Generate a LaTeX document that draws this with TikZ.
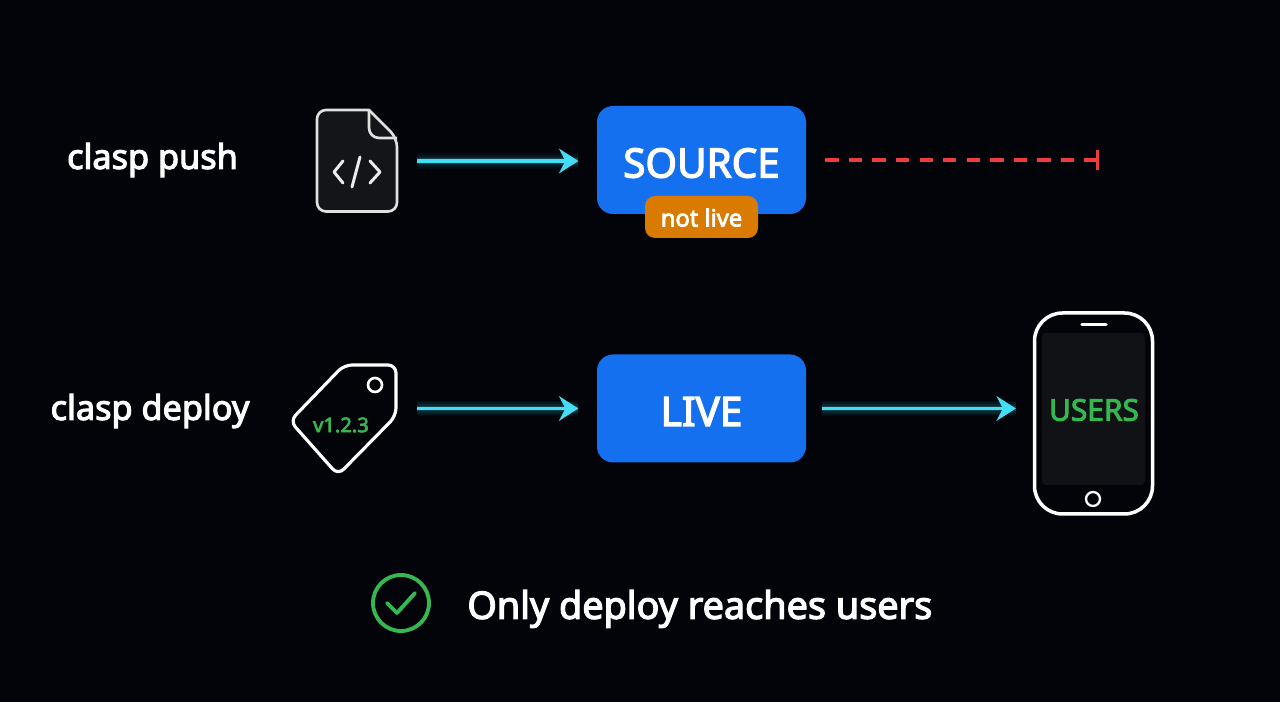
\documentclass[tikz,border=0pt]{standalone}
\usepackage{fontspec}
\setmainfont{Noto Sans}
\newfontfamily\semifont{Noto Sans}[FakeBold=3.2]
\usepackage{tikz,xcolor}
\usetikzlibrary{arrows.meta}

\definecolor{bgnavy}{HTML}{02040A}
\definecolor{boxblue}{HTML}{1570F0}
\definecolor{tagorange}{HTML}{D97B00}
\definecolor{okgreen}{HTML}{35B850}
\definecolor{flowcyan}{HTML}{45DDF5}
\definecolor{stopred}{HTML}{EE3B3B}
\definecolor{iconfill}{HTML}{141518}
\definecolor{screenfill}{HTML}{111216}

\tikzset{
    stagebox/.style={fill=boxblue, rounded corners=0.32cm, minimum width=4.18cm, minimum height=2.16cm,
        inner sep=0pt, text=white, text height=0.70cm, text depth=0pt, font=\semifont\fontsize{23}{26}\selectfont},
    cmdlabel/.style={text=white, inner sep=0pt, font=\semifont\fontsize{19.5}{24}\selectfont},
    flow/.style={draw=flowcyan, line width=1.8pt, -{Stealth[length=11pt, width=14pt, inset=3.6pt]},
        preaction={draw=flowcyan, draw opacity=0.04, line width=9pt, -},
        preaction={draw=flowcyan, draw opacity=0.06, line width=7pt, -},
        preaction={draw=flowcyan, draw opacity=0.08, line width=5pt, -},
        preaction={draw=flowcyan, draw opacity=0.14, line width=3.4pt, -}},
    iconline/.style={draw=white, line width=1.8pt, line join=round},
    anchorbox/.style={inner sep=0pt, minimum height=0.2cm},
}

\begin{document}
\begin{tikzpicture}

\fill[bgnavy] (0,0) rectangle (25.6,14.04);

% Row labels
\node[cmdlabel] (pushlabel) at (3.05,10.84) {clasp push};
\node[cmdlabel] (deploylabel) at (3.0,5.82) {clasp deploy};

% File icon
\node[anchorbox, minimum width=1.64cm] (fileicon) at (7.14,10.82) {};
\filldraw[iconline, line width=1.5pt, draw=white!88!black, fill=iconfill]
    (7.38,11.84) [rounded corners=0.18cm] -- (6.34,11.84) -- (6.34,9.81) -- (7.94,9.81)
    -- (7.94,11.28) [sharp corners] -- cycle;
\draw[iconline, line width=1.5pt, draw=white!88!black, rounded corners=0.2cm] (7.38,11.84) -- (7.38,11.28) -- (7.94,11.28);
\draw[iconline, line width=1.7pt, draw=white!92!black, line cap=round] (6.86,10.82) -- (6.68,10.60) -- (6.86,10.38);
\draw[iconline, line width=1.7pt, draw=white!92!black, line cap=round] (7.20,10.90) -- (7.04,10.30);
\draw[iconline, line width=1.7pt, draw=white!92!black, line cap=round] (7.40,10.82) -- (7.60,10.60) -- (7.40,10.38);

% Tag icon
\node[anchorbox, minimum width=2.12cm] (tagicon) at (6.86,5.87) {};
\draw[iconline, rounded corners=0.16cm]
    (6.88,6.74) -- (7.92,6.74) -- (7.92,5.72) -- (6.76,4.54) -- (5.80,5.62) -- cycle;
\draw[iconline, line width=1.5pt] (7.50,6.34) circle (0.14);
\node[text=okgreen, inner sep=0pt, font=\semifont\fontsize{11.5}{14}\selectfont] (version) at (6.82,5.54) {v1.2.3};

% Stages
\node[stagebox] (source) at (14.03,10.84) {SOURCE};
\node[stagebox] (live) at (14.03,5.87) {LIVE};
\node[fill=tagorange, rounded corners=0.2cm, minimum width=2.26cm, minimum height=0.84cm, inner sep=0pt,
    text=white, text height=0.38cm, text depth=0pt, font=\semifont\fontsize{13.5}{16}\selectfont] (notlive) at (14.03,9.70) {not live};

% Phone
\node[draw=white, line width=2pt, rounded corners=0.56cm, minimum width=2.36cm, minimum height=4.02cm,
    inner sep=0pt] (phone) at (21.87,5.77) {};
\fill[screenfill, rounded corners=0.08cm] (20.84,4.34) rectangle (22.90,7.38);
\draw[iconline, line width=2pt, line cap=round] (21.64,7.55) -- (22.12,7.55);
\draw[iconline, line width=1.3pt] (21.86,4.06) circle (0.14);
\node[text=okgreen, inner sep=0pt, font=\semifont\fontsize{17}{20}\selectfont] (users) at (21.88,5.84) {USERS};

% Connectors
\coordinate (blocked) at (21.98,10.84);
\draw[flow, shorten <=10.8pt, shorten >=10.4pt] (fileicon.east) -- (fileicon.east -| source.west);
\draw[flow, shorten <=11.9pt, shorten >=10.4pt] (tagicon.east) -- (live.west);
\draw[flow, shorten <=9pt, shorten >=9.6pt] (live.east) -- (live.east -| phone.west);
\draw[draw=stopred, line width=1.9pt, dash pattern=on 7.6pt off 5.8pt, shorten <=10.8pt,
    -{Bar[width=11.5pt, length=1.8pt]}] (source.east) -- (blocked);

% Footer
\node[draw=okgreen, line width=2.2pt, circle, minimum size=1.12cm, inner sep=0pt] (okmark) at (8.02,1.98) {};
\draw[draw=okgreen, line width=2.2pt, line cap=round, line join=round] (7.74,1.98) -- (7.94,1.78) -- (8.30,2.18);
\node[text=white, inner sep=0pt, anchor=west, font=\semifont\fontsize{21.5}{26}\selectfont] (summary) at (9.34,1.86)
    {Only deploy reaches users};

\end{tikzpicture}
\end{document}
